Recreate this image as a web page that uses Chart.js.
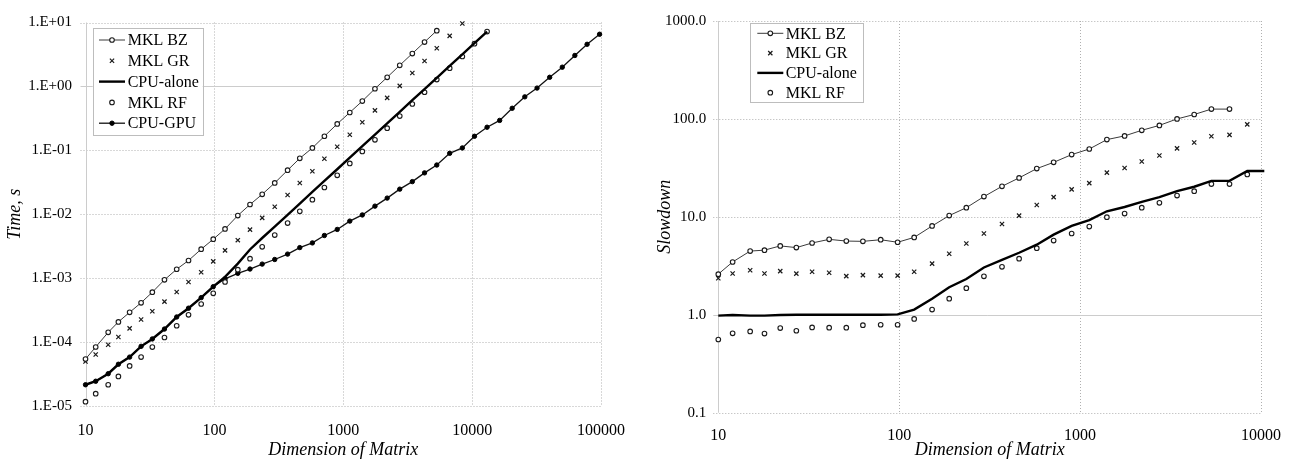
<!DOCTYPE html>
<html>
<head>
<meta charset="utf-8">
<title>Time and slowdown vs. matrix dimension</title>
<script src="https://cdn.jsdelivr.net/npm/chart.js@4.4.1/dist/chart.umd.min.js"></script>
<style>
  html, body { margin: 0; padding: 0; background: #fff; }
  body { width: 1294px; height: 461px; position: relative; overflow: hidden; }
  canvas { position: absolute; top: 0; }
  #timeChart { left: 0; }
  #slowChart { left: 650px; }
</style>
</head>
<body>
<canvas id="timeChart" width="640" height="461"></canvas>
<canvas id="slowChart" width="644" height="461"></canvas>
<script>
// matrix dimensions (shared by both plots)
const dims = [10, 12, 15, 18, 22, 27, 33, 41, 51, 63, 79, 98, 121, 152, 189, 235, 294, 370, 460, 576,
  714, 898, 1124, 1406, 1762, 2192, 2744, 3435, 4273, 5318, 6697, 8395, 10430, 13060, 16360, 20460,
  25630, 31900, 39970, 50070, 62670, 78010, 97500];

// execution time, s
const timeBZ = [5.42e-5, 8.38e-5, 1.42e-4, 2.07e-4, 2.92e-4, 4.12e-4, 6.03e-4, 9.42e-4, 1.38e-3, 1.89e-3,
  2.84e-3, 4.07e-3, 5.89e-3, 9.55e-3, 1.42e-2, 2.05e-2, 3.09e-2, 4.89e-2, 7.50e-2, 0.109,
  0.166, 0.259, 0.391, 0.590, 0.920, 1.39, 2.14, 3.27, 4.94, 7.46];
const timeGR = [4.97e-5, 6.40e-5, 9.10e-5, 1.20e-4, 1.64e-4, 2.26e-4, 3.03e-4, 4.30e-4, 6.07e-4, 8.69e-4,
  1.24e-3, 1.83e-3, 2.72e-3, 3.93e-3, 5.75e-3, 8.78e-3, 1.31e-2, 2.00e-2, 3.09e-2, 4.71e-2,
  7.38e-2, 0.114, 0.175, 0.275, 0.422, 0.662, 1.02, 1.62, 2.50, 3.96, 6.17, 9.66];
const timeCPU = [2.15e-5, 2.44e-5, 3.20e-5, 4.50e-5, 5.82e-5, 8.58e-5, 1.12e-4, 1.60e-4, 2.47e-4, 3.39e-4,
  4.96e-4, 7.36e-4, 1.05e-3, 1.69e-3, 2.81e-3, 4.25e-3, 6.38e-3, 9.79e-3, 1.47e-2, 2.23e-2,
  3.33e-2, 5.06e-2, 7.69e-2, 0.116, 0.176, 0.264, 0.400, 0.609, 0.910, 1.36, 2.09, 3.17, 4.75, 7.21];
const timeRF = [1.17e-5, 1.56e-5, 2.15e-5, 2.90e-5, 4.24e-5, 5.82e-5, 8.34e-5, 1.18e-4, 1.80e-4, 2.67e-4,
  3.94e-4, 5.79e-4, 8.73e-4, 1.36e-3, 2.02e-3, 3.09e-3, 4.72e-3, 7.28e-3, 1.11e-2, 1.69e-2,
  2.62e-2, 4.06e-2, 6.25e-2, 9.61e-2, 0.146, 0.222, 0.343, 0.531, 0.811, 1.28, 1.93, 2.94, 4.66, 7.21];
const timeGPU = [2.15e-5, 2.44e-5, 3.20e-5, 4.50e-5, 5.82e-5, 8.58e-5, 1.12e-4, 1.60e-4, 2.47e-4, 3.39e-4,
  4.96e-4, 7.36e-4, 9.77e-4, 1.19e-3, 1.39e-3, 1.66e-3, 1.96e-3, 2.38e-3, 3.01e-3, 3.56e-3,
  4.65e-3, 5.79e-3, 7.81e-3, 9.75e-3, 1.34e-2, 1.79e-2, 2.47e-2, 3.24e-2, 4.44e-2, 5.89e-2,
  8.98e-2, 0.109, 0.166, 0.230, 0.294, 0.455, 0.687, 0.942, 1.39, 2.00, 3.05, 4.56, 6.55];

// slowdown
const slowBZ = [2.60, 3.46, 4.47, 4.57, 5.05, 4.85, 5.41, 5.89, 5.66, 5.62, 5.84, 5.50, 6.17, 8.07, 10.3,
  12.4, 16.1, 20.5, 25.0, 31.1, 36.0, 43.2, 49.3, 61.5, 67.1, 76.5, 85.9, 100, 111, 126, 126];
const slowGR = [2.36, 2.64, 2.85, 2.64, 2.79, 2.63, 2.75, 2.69, 2.48, 2.54, 2.51, 2.51, 2.75, 3.33, 4.20,
  5.35, 6.77, 8.45, 10.3, 13.2, 15.9, 19.1, 22.1, 28.3, 31.5, 36.8, 42.3, 50.0, 57.4, 66.6, 68.7, 87.9];
const slowCPU = [0.98, 0.995, 0.98, 0.98, 0.995, 1.00, 1.00, 1.00, 1.00, 1.00, 1.00, 1.01, 1.13, 1.46, 1.91,
  2.32, 3.04, 3.63, 4.30, 5.20, 6.58, 8.07, 9.27, 11.4, 12.6, 14.2, 15.9, 18.3, 20.3, 23.3, 23.3, 29.4, 29.4];
const slowRF = [0.559, 0.646, 0.676, 0.642, 0.731, 0.687, 0.743, 0.738, 0.738, 0.783, 0.791, 0.791, 0.908,
  1.13, 1.46, 1.87, 2.47, 3.09, 3.74, 4.79, 5.73, 6.76, 7.96, 9.93, 10.8, 12.4, 13.9, 16.5, 18.3, 21.6, 21.6, 27.1];

// axis ticks
const xTicks = [10, 100, 1000, 10000, 100000];
const xTickLabels = ['10', '100', '1000', '10000', '100000'];
const timeTicks = [1e-5, 1e-4, 1e-3, 1e-2, 1e-1, 1, 10];
const timeTickLabels = ['1.E-05', '1.E-04', '1.E-03', '1.E-02', '1.E-01', '1.E+00', '1.E+01'];
const slowTicks = [0.1, 1, 10, 100, 1000];
const slowTickLabels = ['0.1', '1.0', '10.0', '100.0', '1000.0'];

const FONT = "'Liberation Serif', 'Times New Roman', serif";
Chart.defaults.font.family = FONT;
Chart.defaults.color = '#000';

function toPoints(vals){ return vals.map((v, i) => ({ x: dims[i], y: v })); }

// line / marker look of each series
const STYLES = {
  'MKL BZ':    { showLine: true, borderWidth: 1, borderColor: '#3a3a3a', pointStyle: 'circle', pointRadius: 2.3,
                 pointBackgroundColor: '#fff', pointBorderColor: '#1a1a1a', pointBorderWidth: 1.1 },
  'MKL GR':    { showLine: false, borderColor: '#222', pointStyle: 'crossRot', pointRadius: 3,
                 pointBorderColor: '#1a1a1a', pointBorderWidth: 1.2 },
  'CPU-alone': { showLine: true, borderWidth: 2.4, borderColor: '#000', pointRadius: 0 },
  'MKL RF':    { showLine: false, borderColor: '#222', pointStyle: 'circle', pointRadius: 2.3,
                 pointBackgroundColor: '#fff', pointBorderColor: '#1a1a1a', pointBorderWidth: 1.1 },
  'CPU-GPU':   { showLine: true, borderWidth: 1.3, borderColor: '#111', pointStyle: 'circle', pointRadius: 2.2,
                 pointBackgroundColor: '#000', pointBorderColor: '#000', pointBorderWidth: 1 }
};

function makeDataset(label, vals){
  return Object.assign({ label, data: toPoints(vals), tension: 0, clip: false }, STYLES[label]);
}

// dotted grid, solid axis lines at x = 10 and y = 1
const excelGrid = {
  id: 'excelGrid',
  beforeDatasetsDraw(chart, args, opts){
    const { ctx, chartArea: a, scales: { x, y } } = chart;
    ctx.save();
    ctx.lineWidth = 1;
    ctx.strokeStyle = '#b0b0b0';
    ctx.setLineDash([1, 2]);
    opts.xTicks.slice(1).forEach(v => {
      const px = Math.round(x.getPixelForValue(v)) + 0.5;
      ctx.beginPath(); ctx.moveTo(px, a.top); ctx.lineTo(px, a.bottom); ctx.stroke();
    });
    opts.yTicks.forEach(v => {
      if (v === 1) return;
      const py = Math.round(y.getPixelForValue(v)) + 0.5;
      ctx.beginPath(); ctx.moveTo(a.left - 5, py); ctx.lineTo(a.right, py); ctx.stroke();
    });
    ctx.setLineDash([]);
    ctx.strokeStyle = '#cccccc';
    const py1 = Math.round(y.getPixelForValue(1)) + 0.5;
    ctx.beginPath(); ctx.moveTo(a.left - 5, py1); ctx.lineTo(a.right, py1); ctx.stroke();
    const px0 = Math.round(x.getPixelForValue(opts.xTicks[0])) + 0.5;
    ctx.beginPath(); ctx.moveTo(px0, a.top); ctx.lineTo(px0, a.bottom); ctx.stroke();
    ctx.restore();
  }
};

function drawMarker(ctx, ds, cx, cy){
  const r = ds.pointRadius;
  if (!r) return;
  ctx.lineWidth = ds.pointBorderWidth;
  ctx.strokeStyle = ds.pointBorderColor;
  ctx.beginPath();
  if (ds.pointStyle === 'crossRot') {
    const d = r * Math.SQRT1_2;
    ctx.moveTo(cx - d, cy - d); ctx.lineTo(cx + d, cy + d);
    ctx.moveTo(cx - d, cy + d); ctx.lineTo(cx + d, cy - d);
    ctx.stroke();
  } else {
    ctx.arc(cx, cy, r, 0, Math.PI * 2);
    ctx.fillStyle = ds.pointBackgroundColor;
    ctx.fill();
    ctx.stroke();
  }
}

// boxed legend inside the plot area
const boxLegend = {
  id: 'boxLegend',
  afterDatasetsDraw(chart, args, opts){
    const ctx = chart.ctx;
    const [bx, by, bw, bh] = opts.box;
    ctx.save();
    ctx.fillStyle = '#fff';
    ctx.fillRect(bx, by, bw, bh);
    ctx.strokeStyle = '#bdbdbd';
    ctx.lineWidth = 1;
    ctx.strokeRect(Math.round(bx) + 0.5, Math.round(by) + 0.5, Math.round(bw), Math.round(bh));
    ctx.font = '16px ' + FONT;
    ctx.textBaseline = 'middle';
    chart.data.datasets.forEach((ds, i) => {
      const cy = opts.firstRow + i * opts.rowHeight;
      const [s0, s1] = opts.sample;
      if (ds.showLine) {
        ctx.lineWidth = ds.borderWidth;
        ctx.strokeStyle = ds.borderColor;
        ctx.beginPath(); ctx.moveTo(s0, cy); ctx.lineTo(s1, cy); ctx.stroke();
      }
      drawMarker(ctx, ds, (s0 + s1) / 2, cy);
      ctx.fillStyle = '#000';
      ctx.fillText(ds.label, opts.textX, cy + 1);
    });
    ctx.restore();
  }
};

function xAxis(max, height, pad, titlePad){
  return {
    type: 'logarithmic', min: 10, max,
    afterBuildTicks: ax => { ax.ticks = xTicks.filter(v => v <= max).map(v => ({ value: v })); },
    afterFit: ax => { ax.height = height; },
    grid: { display: false, drawTicks: false }, border: { display: false },
    ticks: { padding: pad, maxRotation: 0, autoSkip: false, font: { size: 16 },
             callback: v => xTickLabels[xTicks.indexOf(v)] },
    title: { display: true, text: 'Dimension of Matrix', font: { size: 18, style: 'italic' },
             padding: { top: titlePad, bottom: 0 } }
  };
}

function yAxis(min, max, ticks, labels, title, width, pad){
  return {
    type: 'logarithmic', min, max,
    afterBuildTicks: ax => { ax.ticks = ticks.map(v => ({ value: v })); },
    afterFit: ax => { ax.width = width; },
    grid: { display: false, drawTicks: false }, border: { display: false },
    ticks: { padding: pad, autoSkip: false, font: { size: 15 },
             callback: v => labels[ticks.indexOf(v)] },
    title: { display: true, text: title, font: { size: 18, style: 'italic' },
             padding: { top: 4.2, bottom: 0 } }
  };
}

const common = {
  responsive: false,
  animation: false,
  events: []
};

new Chart(document.getElementById('timeChart'), {
  type: 'line',
  data: {
    datasets: [
      makeDataset('MKL BZ', timeBZ),
      makeDataset('MKL GR', timeGR),
      makeDataset('CPU-alone', timeCPU),
      makeDataset('MKL RF', timeRF),
      makeDataset('CPU-GPU', timeGPU)
    ]
  },
  options: Object.assign({}, common, {
    layout: { padding: { left: 0, top: 14, right: 35, bottom: 0 } },
    plugins: {
      legend: { display: false },
      tooltip: { enabled: false },
      excelGrid: { xTicks: xTicks, yTicks: timeTicks },
      boxLegend: { box: [92.7, 28.3, 110, 106.7], firstRow: 40, rowHeight: 20.8, sample: [99, 125], textX: 127.7 }
    },
    scales: {
      x: xAxis(100000, 55, 15, 2.2),
      y: yAxis(1e-5, 10, timeTicks, timeTickLabels, 'Time, s', 85.5, 13.5)
    }
  }),
  plugins: [excelGrid, boxLegend]
});

new Chart(document.getElementById('slowChart'), {
  type: 'line',
  data: {
    datasets: [
      makeDataset('MKL BZ', slowBZ),
      makeDataset('MKL GR', slowGR),
      makeDataset('CPU-alone', slowCPU),
      makeDataset('MKL RF', slowRF)
    ]
  },
  options: Object.assign({}, common, {
    layout: { padding: { left: 0, top: 14, right: 32.3, bottom: 0 } },
    plugins: {
      legend: { display: false },
      tooltip: { enabled: false },
      excelGrid: { xTicks: xTicks.slice(0, 4), yTicks: slowTicks },
      boxLegend: { box: [100, 22.7, 113.3, 79], firstRow: 33.3, rowHeight: 19.8, sample: [107.3, 133.3], textX: 135.7 }
    },
    scales: {
      x: xAxis(10000, 48.3, 13, 1.2),
      y: yAxis(0.1, 1000, slowTicks, slowTickLabels, 'Slowdown', 68.3, 12)
    }
  }),
  plugins: [excelGrid, boxLegend]
});
</script>
</body>
</html>
